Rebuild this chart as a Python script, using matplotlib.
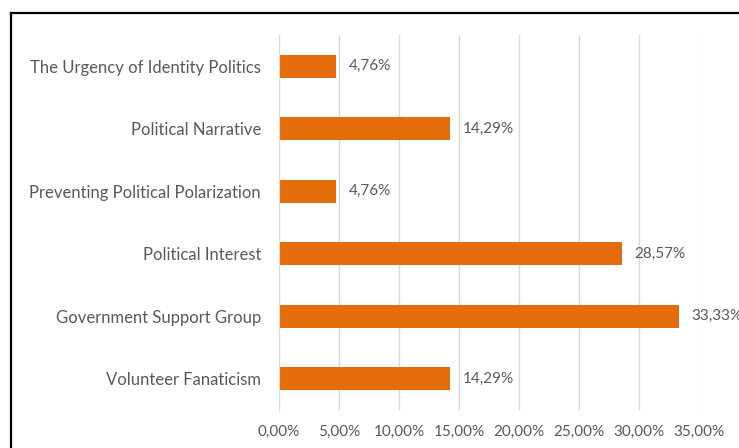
import matplotlib.pyplot as plt
from matplotlib.lines import Line2D

categories = ['The Urgency of Identity Politics', 'Political Narrative',
              'Preventing Political Polarization', 'Political Interest',
              'Government Support Group', 'Volunteer Fanaticism']
values = [4.76, 14.29, 4.76, 28.57, 33.33, 14.29]
x_ticks = [0, 5, 10, 15, 20, 25, 30, 35]

bar_color = '#E46C0A'
text_color = '#595959'
grid_color = '#D9D9D9'

plt.rcParams['font.family'] = ['Lato', 'DejaVu Sans']

fig = plt.figure(figsize=(7.39, 4.48), dpi=100)
ax = fig.add_axes([279 / 739, 1 - 410 / 448, (699 - 279) / 739, (410 - 35) / 448])

ypos = list(range(len(categories)))
ax.barh(ypos, values, height=0.37, color=bar_color, zorder=3)
ax.set_ylim(len(categories) - 0.5, -0.5)
ax.set_xlim(0, 35)

for y, v in zip(ypos, values):
    ax.text(v + 1.05, y, '{:.2f}%'.format(v).replace('.', ','), va='center', ha='left',
            fontsize=11, color=text_color, clip_on=False)

ax.set_yticks(ypos)
ax.set_yticklabels(categories, fontsize=12, color=text_color)
ax.set_xticks(x_ticks)
ax.set_xticklabels(['{:.2f}%'.format(t).replace('.', ',') for t in x_ticks],
                   fontsize=11, color=text_color)
ax.tick_params(axis='both', length=0)
ax.tick_params(axis='y', pad=13)
ax.tick_params(axis='x', pad=11)
ax.grid(axis='x', color=grid_color, linewidth=1, zorder=0)
for s in ['top', 'right', 'bottom']:
    ax.spines[s].set_visible(False)
ax.spines['left'].set_color(grid_color)
ax.spines['left'].set_zorder(4)

# outer chart frame (clipped at right and bottom in the reference)
fig.add_artist(Line2D([11 / 739, 11 / 739], [0, 1 - 13 / 448], color='black', linewidth=1.6))
fig.add_artist(Line2D([11 / 739, 1], [1 - 13 / 448, 1 - 13 / 448], color='black', linewidth=1.6))

plt.savefig('out.png', dpi=100)
